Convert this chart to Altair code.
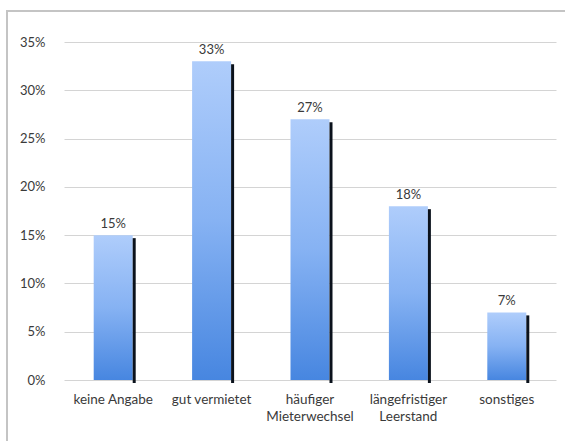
import altair as alt
import pandas as pd

# Survey categories ("|" marks a line break in the axis label) and shares in percent
kategorien = [
    "keine Angabe",
    "gut vermietet",
    "häufiger|Mieterwechsel",
    "längefristiger|Leerstand",
    "sonstiges",
]
anteile = [15, 33, 27, 18, 7]
y_ticks = [0, 5, 10, 15, 20, 25, 30, 35]

df = pd.DataFrame({"kategorie": kategorien, "anteil": anteile})
df["beschriftung"] = [f"{v}%" for v in anteile]

TEXT = "#3a3a3a"
FONT = "Lato"

verlauf = alt.Gradient(
    gradient="linear",
    stops=[
        alt.GradientStop(color="#afcdfb", offset=0),
        alt.GradientStop(color="#86b2f3", offset=0.5),
        alt.GradientStop(color="#4786e0", offset=1),
    ],
    x1=0, x2=0, y1=0, y2=1,
)

x_enc = alt.X(
    "kategorie:N",
    sort=kategorien,
    scale=alt.Scale(paddingInner=0, paddingOuter=0),
    axis=alt.Axis(
        title=None,
        labelAngle=0,
        labelExpr="split(datum.value, '|')",
        domain=False,
        ticks=False,
        labelPadding=12,
        labelFontSize=13.5,
        labelColor=TEXT,
        labelLineHeight=17,
        labelFont=FONT,
    ),
)
y_enc = alt.Y(
    "anteil:Q",
    scale=alt.Scale(domain=[0, 35], nice=False),
    axis=alt.Axis(
        title=None,
        values=y_ticks,
        labelExpr="datum.value + '%'",
        domain=False,
        ticks=False,
        gridColor="#d4d4d4",
        gridWidth=1,
        labelPadding=19,
        labelFontSize=13,
        labelColor=TEXT,
        labelFont=FONT,
    ),
)

basis = alt.Chart(df)

balken = basis.mark_bar(size=39, color=verlauf).encode(x=x_enc, y=y_enc)

schatten = basis.mark_bar(size=3, xOffset=21, yOffset=3, color="#0b121c").encode(
    x=alt.X("kategorie:N", sort=kategorien),
    y=alt.Y("anteil:Q"),
)

werte = basis.mark_text(
    baseline="bottom", dy=-4, fontSize=13, color=TEXT, font=FONT
).encode(
    x=alt.X("kategorie:N", sort=kategorien),
    y=alt.Y("anteil:Q"),
    text="beschriftung:N",
)

# Outer frame around the whole chart
rahmen_df = alt.Chart(pd.DataFrame({"rahmen": [0]}))
rahmen_oben = rahmen_df.mark_rule(color="#c4c4c4", strokeWidth=2).encode(
    x=alt.value(-58), x2=alt.value(520), y=alt.value(-31)
)
rahmen_links = rahmen_df.mark_rule(color="#c4c4c4", strokeWidth=2).encode(
    x=alt.value(-57), y=alt.value(-32), y2=alt.value(420)
)

chart = (
    alt.layer(balken, schatten, werte, rahmen_oben, rahmen_links)
    .properties(
        width=492,
        height=338,
        autosize=alt.AutoSizeParams(type="none"),
        padding={"left": 64, "top": 42, "right": 9, "bottom": 61},
        background="white",
    )
    .configure_view(stroke=None)
)

chart.save("out.html", embed_options={"renderer": "svg", "actions": False})
